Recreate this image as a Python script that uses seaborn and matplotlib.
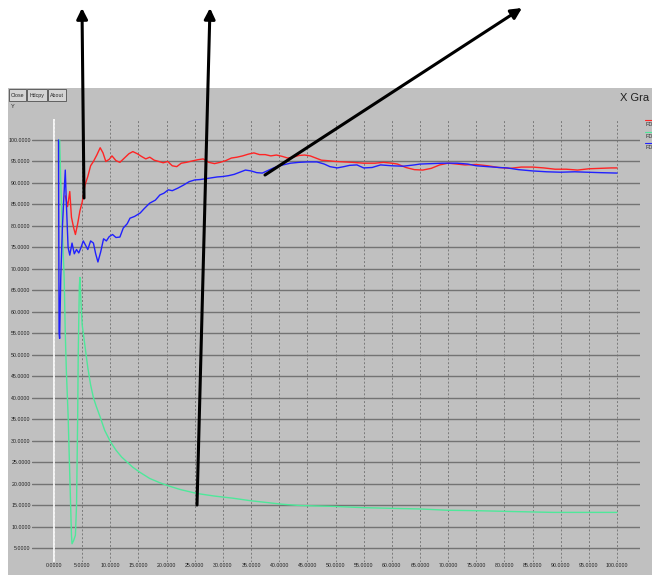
import numpy as np
import pandas as pd
import seaborn as sns
import matplotlib.pyplot as plt
from matplotlib.patches import Rectangle
from matplotlib.lines import Line2D

# values
red_x = [2.0, 2.4, 2.8, 3.1, 3.5, 3.8, 4.2, 4.6, 5.0, 5.5, 6.0, 6.5, 7.0, 7.6, 8.2, 8.7, 9.2, 9.8,
         10.3, 11.0, 11.7, 12.5, 13.3, 14.0, 14.8, 15.5, 16.3, 17.0, 17.8, 18.6, 19.4, 20.2, 21.0,
         21.8, 22.6, 23.5, 24.5, 25.5, 26.5, 27.5, 28.5, 29.5, 30.5, 31.5, 32.5, 33.5, 34.5, 35.5,
         36.5, 37.5, 38.5, 39.5, 40.5, 41.5, 42.5, 43.5, 44.5, 45.5, 46.5, 47.5, 48.5, 50.0, 51.5,
         53.0, 55.0, 57.0, 58.5, 60.0, 61.0, 62.5, 64.0, 65.5, 67.0, 68.5, 70.0, 71.5, 73.0, 75.0,
         77.0, 79.0, 81.0, 83.0, 85.0, 87.0, 89.0, 91.0, 93.0, 95.0, 97.0, 99.0, 100.0]
red_y = [87.0, 84.5, 88.0, 82.0, 79.5, 78.0, 80.5, 83.5, 85.5, 89.5, 91.5, 94.0, 95.0, 96.5, 98.2,
         97.0, 95.0, 95.5, 96.3, 95.2, 94.8, 95.8, 96.8, 97.3, 96.8, 96.2, 95.6, 96.0, 95.3, 95.0,
         94.7, 95.0, 94.0, 93.8, 94.6, 94.8, 95.1, 95.4, 95.6, 94.8, 94.5, 94.8, 95.2, 95.8, 96.0,
         96.3, 96.7, 97.0, 96.6, 96.6, 96.3, 96.5, 96.2, 95.8, 96.0, 96.4, 96.5, 96.3, 95.8, 95.3,
         95.2, 95.0, 94.9, 94.8, 94.6, 94.6, 94.8, 94.6, 94.4, 93.6, 93.1, 93.0, 93.4, 94.2, 94.6,
         94.4, 94.2, 94.3, 94.0, 93.6, 93.4, 93.7, 93.7, 93.5, 93.2, 93.2, 93.0, 93.3, 93.4, 93.5,
         93.5]

blue_x = [0.8, 0.9, 1.0, 1.2, 1.5, 1.8, 2.0, 2.2, 2.5, 2.8, 3.2, 3.6, 4.0, 4.4, 4.8, 5.2, 5.6,
          6.0, 6.5, 7.0, 7.4, 7.8, 8.3, 8.8, 9.3, 9.8, 10.4, 11.0, 11.7, 12.3, 13.0, 13.5, 14.3,
          15.3, 16.0, 17.0, 18.0, 18.8, 19.5, 20.3, 21.0, 22.0, 23.0, 24.0, 25.0, 26.0, 27.0, 28.0,
          29.0, 30.0, 31.0, 32.0, 33.0, 34.0, 35.0, 36.0, 37.0, 38.0, 39.0, 40.0, 41.0, 42.0, 43.5,
          45.0, 46.7, 48.0, 49.0, 50.3, 51.5, 52.5, 53.8, 55.0, 56.5, 58.0, 60.0, 62.0, 64.0, 65.0,
          67.0, 69.0, 71.6, 73.5, 75.0, 77.0, 79.0, 80.5, 82.5, 85.0, 87.5, 90.0, 92.5, 94.7, 97.0,
          100.0]
blue_y = [100.0, 55.0, 53.8, 68.0, 80.0, 88.0, 93.0, 85.0, 75.0, 73.2, 76.0, 73.5, 74.5, 73.7,
          75.0, 76.5, 75.5, 74.5, 76.5, 76.0, 73.5, 71.6, 74.0, 77.0, 76.5, 77.5, 78.0, 77.3, 77.4,
          79.5, 80.5, 81.8, 82.2, 83.0, 84.0, 85.3, 86.0, 87.2, 87.6, 88.4, 88.2, 88.8, 89.5, 90.3,
          90.7, 90.8, 91.0, 91.2, 91.4, 91.5, 91.7, 92.0, 92.5, 93.0, 92.8, 92.4, 92.3, 92.9, 93.5,
          94.0, 94.3, 94.6, 94.8, 94.9, 94.9, 94.4, 93.8, 93.5, 93.8, 94.1, 94.2, 93.5, 93.6, 94.2,
          94.0, 93.9, 94.2, 94.4, 94.5, 94.6, 94.6, 94.4, 94.0, 93.8, 93.6, 93.5, 93.1, 92.8, 92.6,
          92.5, 92.6, 92.5, 92.4, 92.3]

green_x = [1.0, 1.2, 1.5, 1.8, 2.0, 2.2, 2.5, 2.8, 3.1, 3.2, 3.5, 3.8, 4.0, 4.2, 4.3, 4.5, 4.6,
           4.8, 5.0, 5.5, 6.0, 6.5, 7.0, 7.5, 8.2, 9.0, 10.0, 11.0, 12.0, 13.0, 14.0, 15.3, 17.0,
           18.8, 20.5, 22.5, 25.4, 28.5, 31.8, 35.0, 37.8, 40.5, 43.7, 46.5, 49.6, 55.0, 61.5, 65.0,
           69.8, 75.0, 81.5, 88.6, 100.0]
green_y = [100.0, 90.0, 78.0, 68.0, 55.0, 46.0, 36.0, 22.0, 8.0, 6.0, 6.8, 8.0, 15.0, 35.0, 50.0,
           66.0, 68.0, 62.0, 57.0, 52.0, 47.0, 43.0, 40.0, 38.0, 35.5, 32.4, 29.8, 27.8, 26.2, 25.0,
           23.8, 22.6, 21.2, 20.2, 19.4, 18.6, 17.7, 17.1, 16.6, 16.0, 15.6, 15.2, 14.9, 14.8, 14.7,
           14.4, 14.2, 14.1, 13.8, 13.7, 13.5, 13.3, 13.3]

tick_vals = list(range(0, 101, 5))
buttons = ["Close", "Hdcpy", "About"]

W, H = 652, 575
gray = "#c0c0c0"

sns.set_style("white")
plt.rcParams['font.family'] = ['Liberation Sans', 'DejaVu Sans']

fig = plt.figure(figsize=(W / 100, H / 100), dpi=100)
fig.patch.set_facecolor("white")

# window background
fig.add_artist(Rectangle((8 / W, 0), 1, (H - 88) / H, transform=fig.transFigure,
                         facecolor=gray, edgecolor="none", zorder=0))

def px(x0, y0, x1, y1):
    # image pixel box -> figure fraction [left, bottom, width, height]
    return [x0 / W, 1 - y1 / H, (x1 - x0) / W, (y1 - y0) / H]

ax = fig.add_axes(px(32, 119, 640, 562))
ax.set_facecolor("none")

df_red = pd.DataFrame({"x": red_x, "y": red_y})
df_blue = pd.DataFrame({"x": blue_x, "y": blue_y})
df_green = pd.DataFrame({"x": green_x, "y": green_y})

sns.lineplot(data=df_green, x="x", y="y", color="#4ee89a", lw=1.0, sort=False, estimator=None, ax=ax)
sns.lineplot(data=df_red, x="x", y="y", color="#ff2424", lw=1.0, sort=False, estimator=None, ax=ax)
sns.lineplot(data=df_blue, x="x", y="y", color="#2020ff", lw=1.0, sort=False, estimator=None, ax=ax)

ax.axvline(0, color="white", lw=1.2, zorder=1)

ax.set_xlim(-3.91, 104.08)
ax.set_ylim(1.75, 104.89)
ax.set_xticks(tick_vals)
ax.set_yticks(tick_vals[1:])
ax.set_xticklabels([f"{v:.4f}" for v in tick_vals])
ax.set_yticklabels([f"{v:.4f}" for v in tick_vals[1:]])
ax.tick_params(length=0, labelsize=3.8, pad=1, colors="#202020")
ax.yaxis.grid(True, color="#737373", lw=1.0, ls="-")
ax.xaxis.grid(True, color="#7a7a7a", lw=0.7, ls=(0, (2, 2)))
ax.set_axisbelow(True)
for s in ax.spines.values():
    s.set_visible(False)
ax.set_xlabel("")
ax.set_ylabel("")

# window buttons
bx = [(9, 26), (27, 47), (48, 66)]
for (x0, x1), name in zip(bx, buttons):
    fig.add_artist(Rectangle((x0 / W, 1 - 101 / H), (x1 - x0) / W, 12 / H, transform=fig.transFigure,
                             facecolor="#d4d4d4", edgecolor="#505050", lw=0.6))
    fig.text((x0 + x1) / 2 / W, 1 - 95.5 / H, name, fontsize=3.8, ha="center", va="center")
fig.text(11 / W, 1 - 107 / H, "Y", fontsize=4, ha="left", va="center")

# title, as far as the window shows it
fig.text(649 / W, 1 - 98 / H, "X Gra", fontsize=8, ha="right", va="center", color="#202020")

# legend entries at the right edge
for yy, col in zip([120, 132, 143], ["#ff2424", "#4ee89a", "#2020ff"]):
    fig.add_artist(Line2D([645 / W, 652 / W], [1 - yy / H, 1 - yy / H], color=col, lw=0.8))
    fig.text(645 / W, 1 - (yy + 4.5) / H, "FD", fontsize=4, ha="left", va="center", color="#303030")

# annotation arrows
arrows = [((84, 198), (82, 8)), ((197, 505), (210, 8)), ((265, 175), (522, 8))]
for (sx, sy), (tx, ty) in arrows:
    ax.annotate("", xy=(tx, H - ty), xycoords="figure pixels",
                xytext=(sx, H - sy), textcoords="figure pixels",
                arrowprops=dict(arrowstyle="-|>", color="black", lw=2.2,
                                mutation_scale=16, shrinkA=0, shrinkB=0),
                annotation_clip=False)

fig.savefig("out.png", dpi=100)
